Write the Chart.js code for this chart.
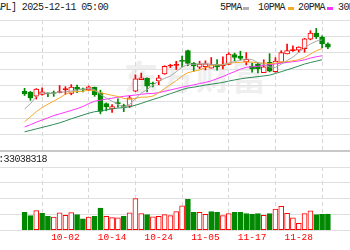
<!DOCTYPE html>
<html><head><meta charset="utf-8">
<script src="https://cdn.jsdelivr.net/npm/chart.js@4.4.1/dist/chart.umd.min.js"></script>
<style>
html,body{margin:0;padding:0;background:#fff;}
#wrap{position:relative;width:350px;height:250px;overflow:hidden;background:#fff;}
.t{position:absolute;font-family:'Liberation Mono',monospace;font-size:10px;letter-spacing:-0.6px;color:#222;white-space:nowrap;line-height:12px;}
.mk{position:absolute;width:6px;height:3px;}
#wm{position:absolute;left:124px;top:56px;font-family:'Noto Sans CJK SC',sans-serif;font-weight:700;font-size:34px;line-height:40px;color:#efefef;letter-spacing:2px;white-space:nowrap;}
canvas{position:absolute;left:0;}
</style></head><body>
<div id="wrap">
  <div id="wm">东方财富</div>
  <canvas id="pc" width="350" height="133" style="top:19px"></canvas>
  <canvas id="vc" width="350" height="100" style="top:150px"></canvas>
  <div class="t" style="left:-16px;top:2px">[AAPL] 2025-12-11 05:00</div>
  <div class="t" style="left:220px;top:2px">5PMA</div><div class="mk" style="left:243px;top:7px;background:#b0b0b0"></div>
  <div class="t" style="left:258px;top:2px">10PMA</div><div class="mk" style="left:288px;top:7px;background:#f7a928"></div>
  <div class="t" style="left:298px;top:2px">20PMA</div><div class="mk" style="left:327px;top:7px;background:#ff33ff"></div>
  <div class="t" style="left:338px;top:2px">30PMA</div><div class="mk" style="left:366px;top:7px;background:#2e8b57"></div>
  <div class="t" style="left:-18px;top:154px">VOL:33038318</div>
</div>
<script>
// ---- data ----
const dates = ['09-23','09-24','09-25','09-26','09-29','09-30','10-01','10-02','10-03','10-06','10-07','10-08','10-09','10-10','10-13','10-14','10-15','10-16','10-17','10-20','10-21','10-22','10-23','10-24','10-27','10-28','10-29','10-30','10-31','11-03','11-04','11-05','11-06','11-07','11-10','11-11','11-12','11-13','11-14','11-17','11-18','11-19','11-20','11-21','11-24','11-25','11-26','11-28','12-01','12-02','12-03','12-04','12-05'];
const tickLabels = ['10-02','10-14','10-24','11-05','11-17','11-28'];
const open  = [255.88,255.22,253.21,254.10,254.56,254.86,255.04,256.58,254.67,257.99,256.81,256.52,257.81,254.94,249.38,246.60,249.49,248.25,248.02,255.89,261.88,262.65,259.94,261.19,264.88,268.99,269.28,271.99,276.99,270.42,268.33,268.61,267.89,269.80,268.96,269.81,275.00,274.11,271.05,268.82,269.99,265.53,270.83,265.95,270.90,275.27,276.96,277.26,278.01,283.00,286.20,284.10,280.54];
const high  = [257.34,255.74,257.17,257.60,255.00,255.92,258.79,258.18,259.24,259.07,257.40,258.52,258.00,256.38,249.69,248.85,251.82,249.04,253.38,264.38,265.29,262.85,260.62,264.13,269.12,269.89,271.41,274.14,277.32,270.85,271.49,271.70,273.40,272.29,273.73,275.91,275.73,276.70,275.96,270.49,270.71,272.21,275.43,273.33,277.00,280.38,279.53,279.00,283.42,287.40,288.62,284.73,281.14];
const low   = [253.58,251.04,251.71,253.78,253.01,253.11,254.93,254.15,253.95,255.05,255.43,256.11,253.14,244.00,245.56,244.70,247.47,245.13,247.27,255.63,261.83,255.43,258.01,259.18,264.65,268.15,267.11,268.48,269.16,266.25,267.62,266.93,267.89,266.77,267.46,269.80,271.70,272.09,269.60,265.73,265.32,265.50,265.92,265.67,270.90,275.25,276.63,275.99,276.14,282.63,283.30,278.59,278.05];
const close = [254.43,252.31,256.87,255.46,254.43,254.63,255.45,257.13,258.02,256.69,256.48,258.06,254.04,245.27,247.66,247.77,249.34,247.45,252.29,262.24,262.77,258.45,259.58,262.82,268.81,269.00,269.70,271.40,270.37,269.05,270.04,270.14,269.77,268.47,269.43,275.25,273.47,272.95,272.41,267.46,267.44,268.56,266.25,271.49,275.92,276.97,277.55,278.85,283.10,286.19,284.15,280.70,278.78];
const prevClose0 = 256.08;
const volume = [52.0,42.4,56.6,49.0,40.5,37.7,50.0,43.4,51.0,45.0,33.0,37.7,40.5,64.0,40.5,36.6,35.7,40.5,50.0,92.0,48.0,45.0,38.6,40.5,45.0,42.0,53.7,71.0,90.0,52.0,52.0,46.0,54.0,52.0,42.0,48.0,52.0,52.0,48.0,46.0,48.0,43.0,48.0,61.0,69.0,49.0,36.0,19.5,48.0,56.0,45.0,46.0,47.0];
const ma5  = [246.58,249.24,253.04,255.03,254.70,254.74,255.37,255.42,255.93,256.38,256.75,257.28,256.66,254.11,252.30,250.56,248.82,247.50,248.90,251.82,254.82,256.64,259.07,261.17,262.49,263.73,265.98,268.35,269.86,269.90,270.11,270.20,269.87,269.49,269.57,270.61,271.28,271.91,272.70,272.31,270.75,269.76,268.42,268.24,269.93,271.84,273.64,276.16,278.48,280.53,281.97,282.60,282.58];
const ma10 = [239.86,242.41,245.10,247.24,249.01,250.66,252.30,254.23,255.48,255.54,255.75,256.32,256.04,255.02,254.34,253.66,253.05,252.08,251.51,252.06,252.69,252.73,253.28,255.04,257.15,259.28,261.31,263.71,265.51,266.20,266.92,268.09,269.11,269.68,269.74,270.36,270.74,270.89,271.10,270.94,270.68,270.52,270.17,270.47,271.12,271.29,271.70,272.29,273.36,275.23,276.90,278.12,279.37];
const ma20 = [237.15,238.30,239.62,240.76,241.88,243.12,243.97,244.84,245.76,246.70,247.80,249.37,250.57,251.13,251.68,252.16,252.68,253.15,253.49,253.80,254.22,254.53,254.66,255.03,255.75,256.47,257.18,257.89,258.51,259.13,259.81,260.41,261.20,262.36,263.44,264.82,266.03,267.30,268.31,268.57,268.80,269.31,269.64,270.07,270.43,270.83,271.22,271.59,272.23,273.09,273.79,274.32,274.77];
const ma30 = [234.59,235.34,236.13,236.88,237.65,238.44,239.27,240.30,241.41,242.37,243.35,244.31,245.09,245.52,246.03,246.64,247.00,247.25,247.67,248.49,249.43,250.49,251.47,252.43,253.50,254.53,255.55,256.67,257.50,257.93,258.45,259.05,259.48,259.91,260.41,261.10,261.70,262.23,262.71,263.06,263.43,263.78,264.19,265.06,266.00,266.98,267.92,268.96,269.99,270.79,271.50,272.24,272.88];

// ---- styling ----
const RED = '#ff0000', GREEN = '#008800';
const xMin = 5.5/7, xMax = 355.5/7;
const pMin = 224.58, pMax = 293.0;
const vMax = 184;
const idx = dates.map((d,i)=>i);
const up = idx.map(i => close[i] >= open[i]);
const volUp = idx.map(i => close[i] >= (i ? close[i-1] : prevClose0));
const splitTicks = (lo, hi, n) => Array.from({length:n+1}, (_,k)=>({value: lo + (hi-lo)*k/n}));
const xTicks = ax => { ax.ticks = tickLabels.map(l => ({value: dates.indexOf(l)})); };

const lineDs = (label, arr, color) => ({type:'line', label, data: idx.map(i=>({x:i,y:arr[i]})), borderColor: color, borderWidth:1, pointRadius:0, tension:0, order:1});

new Chart(document.getElementById('pc'), {
  data: { datasets: [
    lineDs('5PMA', ma5, '#a8a8a8'),
    lineDs('10PMA', ma10, '#f7a928'),
    lineDs('20PMA', ma20, '#ff33ff'),
    lineDs('30PMA', ma30, '#2e8b57'),
    {type:'bar', label:'body', data: idx.map(i=>({x:i,y:[open[i],close[i]]})),
     backgroundColor: idx.map(i => up[i] ? (Math.abs(close[i]-open[i])*1.9 > 1.6 ? '#ffffff' : RED) : GREEN),
     borderColor: idx.map(i => up[i] ? RED : GREEN), borderWidth:1, borderSkipped:false,
     barThickness:5, grouped:false, minBarLength:1, order:5},
    {type:'bar', label:'wick', data: idx.map(i=>({x:i,y:[low[i],high[i]]})),
     backgroundColor: idx.map(i => up[i] ? RED : GREEN), barThickness:1, grouped:false, order:6}
  ]},
  options: {
    responsive:false, animation:false, devicePixelRatio:1,
    layout:{padding:{top:1,bottom:1,left:0,right:0}},
    plugins:{legend:{display:false}, tooltip:{enabled:false}},
    scales:{
      x:{type:'linear', min:xMin, max:xMax, afterBuildTicks:xTicks,
         ticks:{display:false}, grid:{color:'#d6d6d6', drawTicks:false},
         border:{display:true, color:'#c8c8c8', width:2, dash:[4,3]}},
      y:{type:'linear', min:pMin, max:pMax, afterBuildTicks: ax => { ax.ticks = splitTicks(pMin,pMax,8); },
         ticks:{display:false}, grid:{color:'#e0e0e0', drawTicks:false}, border:{display:false}}
    }
  }
});

new Chart(document.getElementById('vc'), {
  data: { datasets: [
    {type:'bar', label:'VOL', data: idx.map(i=>({x:i,y:volume[i]})),
     backgroundColor: idx.map(i => volUp[i] ? '#ffffff' : GREEN),
     borderColor: idx.map(i => volUp[i] ? RED : GREEN), borderWidth:1, borderSkipped:false,
     barThickness:5, grouped:false}
  ]},
  options: {
    responsive:false, animation:false, devicePixelRatio:1,
    layout:{padding:{top:17,bottom:4.5,left:0,right:0}},
    plugins:{legend:{display:false}, tooltip:{enabled:false}},
    scales:{
      x:{type:'linear', min:xMin, max:xMax, afterBuildTicks:xTicks,
         ticks:{display:true, color:RED, font:{family:'Liberation Mono', size:9.5}, padding:2, autoSkip:false, maxRotation:0,
                callback: v => dates[v]},
         grid:{color:'#d6d6d6', drawTicks:false},
         border:{display:false, dash:[4,3]}},
      y:{type:'linear', min:0, max:vMax, afterBuildTicks: ax => { ax.ticks = splitTicks(0,vMax,4); },
         ticks:{display:false}, grid:{color:'#e0e0e0', drawTicks:false}, border:{display:false}}
    }
  }
});
</script>
</body></html>
